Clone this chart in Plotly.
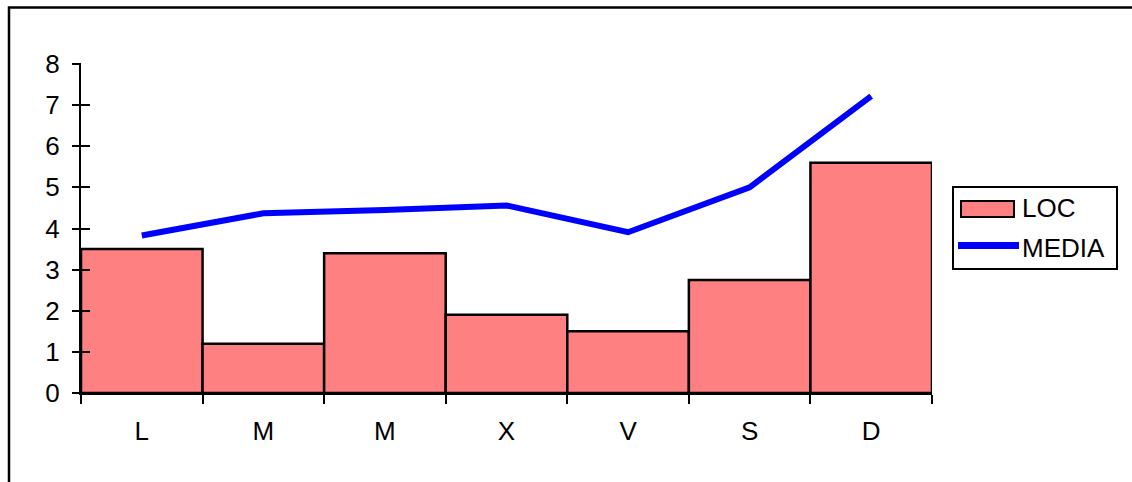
import plotly.graph_objects as go

# Weekday data
days = ["L", "M", "M", "X", "V", "S", "D"]
loc_values = [3.5, 1.2, 3.4, 1.9, 1.5, 2.75, 5.6]
media_values = [3.83, 4.37, 4.45, 4.56, 3.91, 5.0, 7.22]
series_names = ["LOC", "MEDIA"]
y_ticks = [0, 1, 2, 3, 4, 5, 6, 7, 8]

W, H = 1132, 482
ML, MR, MT, MB = 81, 200, 64, 89
PW, PH = W - ML - MR, H - MT - MB

BAR_FILL = "#FF8080"
LINE_BLUE = "#0000FF"
FONT = "Arial, Liberation Sans, sans-serif"
TEXT_SIZE = 26


def px_x(px):
    return (px - ML) / PW


def px_y(py):
    return (H - MB - py) / PH


xs = list(range(len(days)))
boundaries = [i - 0.5 for i in range(len(days) + 1)]

fig = go.Figure()
fig.add_trace(go.Bar(
    x=xs, y=loc_values, width=1, name=series_names[0],
    marker=dict(color=BAR_FILL, line=dict(color="black", width=2.5)),
    showlegend=False, hoverinfo="skip",
))
fig.add_trace(go.Scatter(
    x=xs, y=media_values, mode="lines", name=series_names[1],
    line=dict(color=LINE_BLUE, width=6),
    showlegend=False, hoverinfo="skip",
))
# Invisible helper trace so the outer-tick y axis renders
fig.add_trace(go.Scatter(x=xs, y=loc_values, xaxis="x", yaxis="y2", mode="markers",
                         marker=dict(opacity=0), showlegend=False, hoverinfo="skip"))

# Hand-drawn legend box
legend_shapes = [
    dict(type="rect", xref="paper", yref="paper",
         x0=px_x(953), x1=px_x(1117), y0=px_y(269), y1=px_y(187),
         line=dict(color="black", width=2), fillcolor="white", layer="above"),
    dict(type="rect", xref="paper", yref="paper",
         x0=px_x(961), x1=px_x(1014), y0=px_y(217), y1=px_y(201),
         line=dict(color="black", width=2), fillcolor=BAR_FILL, layer="above"),
    dict(type="line", xref="paper", yref="paper",
         x0=px_x(958), x1=px_x(1019), y0=px_y(245.5), y1=px_y(245.5),
         line=dict(color=LINE_BLUE, width=7), layer="above"),
]
# Outer frame (left and top edges)
frame = dict(type="path", xref="paper", yref="paper",
             path=f"M {px_x(9)},{px_y(490)} L {px_x(9)},{px_y(7.5)} L {px_x(1140)},{px_y(7.5)}",
             line=dict(color="black", width=2.5), layer="above")

annotations = [
    dict(xref="paper", yref="paper", x=px_x(1020), y=px_y(208), text=series_names[0],
         showarrow=False, xanchor="left", yanchor="middle",
         font=dict(family=FONT, size=TEXT_SIZE, color="black")),
    dict(xref="paper", yref="paper", x=px_x(1020), y=px_y(248), text=series_names[1],
         showarrow=False, xanchor="left", yanchor="middle",
         font=dict(family=FONT, size=TEXT_SIZE, color="black")),
]

fig.update_layout(
    width=W, height=H,
    margin=dict(l=ML, r=MR, t=MT, b=MB, pad=0),
    paper_bgcolor="white", plot_bgcolor="white",
    bargap=0,
    font=dict(family=FONT, size=TEXT_SIZE, color="black"),
    shapes=legend_shapes + [frame],
    annotations=annotations,
    xaxis=dict(
        range=[-0.5, len(days) - 0.5], tickmode="array", tickvals=xs, ticktext=days,
        ticks="", showgrid=False, zeroline=False,
        showline=True, linecolor="black", linewidth=2,
        ticklabelstandoff=14, tickfont=dict(family=FONT, size=TEXT_SIZE, color="black"),
        minor=dict(tickmode="array", tickvals=boundaries, ticks="outside",
                   ticklen=9, tickwidth=2, tickcolor="black", showgrid=False),
    ),
    # Main y axis: labels plus the inner half of each crossing tick
    yaxis=dict(
        range=[0, 8], tickmode="array", tickvals=y_ticks,
        ticks="inside", ticklen=9, tickwidth=2, tickcolor="black",
        showgrid=False, zeroline=False,
        showline=True, linecolor="black", linewidth=2,
        ticklabelstandoff=14, tickfont=dict(family=FONT, size=TEXT_SIZE, color="black"),
        layer="above traces",
    ),
    # Overlay y axis on the same edge: outer half of each tick
    yaxis2=dict(
        range=[0, 8], overlaying="y", anchor="free", position=0, side="left",
        tickmode="array", tickvals=y_ticks, ticks="outside", ticklen=9,
        tickwidth=2, tickcolor="black", showticklabels=False,
        showgrid=False, zeroline=False, showline=False,
    ),
)

fig.write_html("out.html", config={"displayModeBar": False, "staticPlot": True})
